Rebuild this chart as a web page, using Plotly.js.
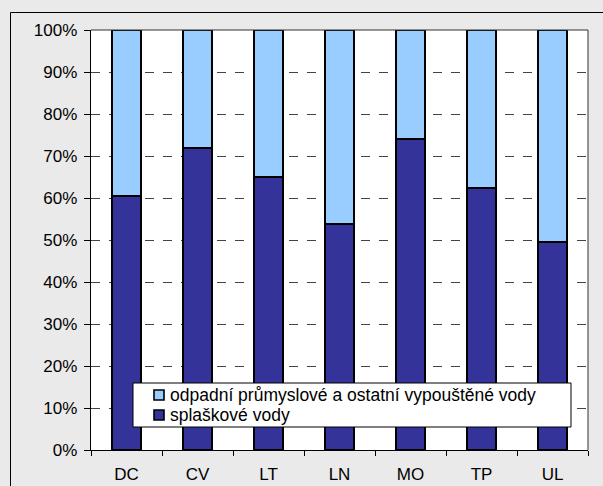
<!DOCTYPE html>
<html>
<head>
<meta charset="utf-8">
<script src="https://cdn.plot.ly/plotly-3.0.1.min.js"></script>
<style>
  html, body { margin: 0; padding: 0; background: #eaeaea; }
  #chart { width: 603px; height: 486px; }
</style>
</head>
<body>
<div id="chart"></div>
<script>
// District codes
const categories = ["DC", "CV", "LT", "LN", "MO", "TP", "UL"];
// Share of sewage water (%)
const sewage = [60.4, 71.8, 65.0, 53.8, 74.0, 62.5, 49.5];
// Share of industrial and other discharged water (%)
const industrial = [39.6, 28.2, 35.0, 46.2, 26.0, 37.5, 50.5];
const seriesNames = ["splaškové vody", "odpadní průmyslové a ostatní vypouštěné vody"];
const seriesColors = ["#333399", "#99ccff"];
const yTickValues = [0, 10, 20, 30, 40, 50, 60, 70, 80, 90, 100];
const yTickLabels = ["0%", "10%", "20%", "30%", "40%", "50%", "60%", "70%", "80%", "90%", "100%"];

const W = 603, H = 486;
const M = { l: 91, r: 15, t: 30, b: 36 };
const pw = W - M.l - M.r, ph = H - M.t - M.b;
const px = v => (v - M.l) / pw;          // page x -> paper x
const py = v => (H - M.b - v) / ph;      // page y -> paper y

const font = "Arial, 'Liberation Sans', sans-serif";

const traces = [sewage, industrial].map((vals, i) => ({
  type: "bar", name: seriesNames[i], x: categories, y: vals,
  marker: { color: seriesColors[i], line: { color: "#000", width: 2 } },
  hoverinfo: "x+y"
}));

// Legend panel drawn as shapes + annotations (upper series listed first)
const legendBox = { x0: 133, x1: 571, y0: 383, y1: 427 };
const legendRows = [1, 0].map((s, r) => ({ series: s, yc: 395 + r * 20 }));

const shapes = [
  // top and right edges of the plot area
  { type: "line", xref: "paper", yref: "paper", x0: 0, x1: 1, y0: 1, y1: 1,
    line: { color: "#333", width: 1 } },
  { type: "line", xref: "paper", yref: "paper", x0: 1, x1: 1, y0: 0, y1: 1,
    line: { color: "#333", width: 1 } },
  // outer chart frame
  { type: "rect", xref: "paper", yref: "paper",
    x0: px(10.5), x1: px(620), y0: py(12.5), y1: py(520),
    line: { color: "#000", width: 1 }, layer: "below" },
  // legend box
  { type: "rect", xref: "paper", yref: "paper",
    x0: px(legendBox.x0), x1: px(legendBox.x1), y0: py(legendBox.y0), y1: py(legendBox.y1),
    fillcolor: "#fff", line: { color: "#000", width: 1 }, layer: "above" }
];
const annotations = [];
legendRows.forEach(row => {
  shapes.push({
    type: "rect", xref: "paper", yref: "paper",
    x0: px(154), x1: px(164), y0: py(row.yc - 5), y1: py(row.yc + 5),
    fillcolor: seriesColors[row.series], line: { color: "#000", width: 1.6 }, layer: "above"
  });
  annotations.push({
    xref: "paper", yref: "paper", x: px(168), y: py(row.yc),
    xanchor: "left", yanchor: "middle", showarrow: false,
    text: seriesNames[row.series],
    font: { family: font, size: 17.5, color: "#000" }
  });
});

const layout = {
  width: W, height: H,
  margin: M,
  paper_bgcolor: "#eaeaea",
  plot_bgcolor: "#ffffff",
  barmode: "stack",
  bargap: 0.6,
  font: { family: font, size: 17, color: "#000" },
  showlegend: false,
  xaxis: {
    type: "category",
    showgrid: false,
    showline: true, linecolor: "#000", linewidth: 1,
    ticks: "outside", tickson: "boundaries", ticklen: 5, tickcolor: "#000",
    ticklabelstandoff: 9,
    tickfont: { family: font, size: 17, color: "#000" },
    fixedrange: true
  },
  yaxis: {
    range: [0, 100],
    tickmode: "array",
    tickvals: yTickValues,
    ticktext: yTickLabels,
    showgrid: true, gridcolor: "#444", griddash: "dash", gridwidth: 1,
    showline: true, linecolor: "#000", linewidth: 1.3,
    ticks: "outside", ticklen: 6, tickcolor: "#000",
    ticklabelstandoff: 3,
    tickfont: { family: font, size: 17, color: "#000" },
    zeroline: false,
    fixedrange: true
  },
  shapes: shapes,
  annotations: annotations
};

Plotly.newPlot("chart", traces, layout, { displayModeBar: false, staticPlot: true });
</script>
</body>
</html>
